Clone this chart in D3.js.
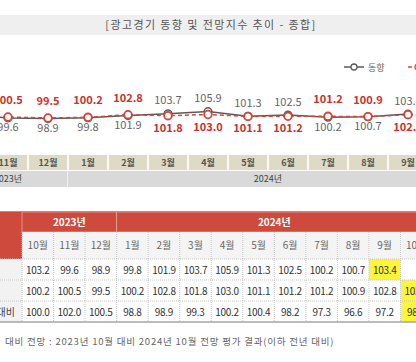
<!DOCTYPE html>
<html>
<head>
<meta charset="utf-8">
<script src="https://cdn.jsdelivr.net/npm/d3@7"></script>
<style>
  body { margin: 0; background: #fff; }
  svg { display: block; font-family: "Noto Sans CJK KR", "Noto Sans", sans-serif; }
</style>
</head>
<body>
<svg id="chart" width="416" height="362"></svg>
<script>
// chart categories (Oct 2023 .. Oct 2024)
const months = ["10월", "11월", "12월", "1월", "2월", "3월", "4월", "5월", "6월", "7월", "8월", "9월", "10월"];
const years = [
    { label: "2023년", from: 0, to: 2 },
    { label: "2024년", from: 3, to: 12 }
];
const trend = [103.2, 99.6, 98.9, 99.8, 101.9, 103.7, 105.9, 101.3, 102.5, 100.2, 100.7, 103.4, null];
const outlook = [100.2, 100.5, 99.5, 100.2, 102.8, 101.8, 103.0, 101.1, 101.2, 101.2, 100.9, 102.8, 103.1];
const yoy = [100.0, 102.0, 100.5, 98.8, 98.9, 99.3, 100.2, 100.4, 98.2, 97.3, 96.6, 97.2, 98.6];
const rowLabels = ["동향", "전망", "전년 동월 대비"];
const seriesNames = ["동향", "전망"];
// highlighted table cells [row, col]
const highlights = [[0, 11], [1, 12], [2, 12]];

const svg = d3.select("#chart");
const red = "#c9312b";
const grey = "#5a5a5a";
const keys = months.map((m, i) => i);

//title band
svg.append("rect").attr("x", 0).attr("y", 15).attr("width", 416).attr("height", 20).attr("fill", "#efefef");
svg.append("text")
    .attr("x", 211).attr("y", 29)
    .attr("text-anchor", "middle")
    .style("font-size", "11px")
    .style("letter-spacing", "1.4px")
    .style("fill", "#555")
    .text("[광고경기 동향 및 전망지수 추이 - 종합]");

//scales for the line chart
const x = d3.scaleBand().domain(keys).range([-52, 468]).paddingInner(0.04).paddingOuter(0.02);
const y = d3.scaleLinear().domain([95, 110]).range([122.5, 107.5]);
const cx = i => x(i) + x.bandwidth() / 2;

//month cells under the chart
svg.append("g").selectAll("rect")
    .data(keys).enter().append("rect")
    .attr("x", d => x(d)).attr("y", 155)
    .attr("width", x.bandwidth()).attr("height", 15)
    .attr("fill", "#dedac6");
svg.append("g").selectAll("text")
    .data(keys).enter().append("text")
    .attr("x", d => cx(d)).attr("y", 166)
    .attr("text-anchor", "middle")
    .style("font-size", "9px").style("font-weight", "bold")
    .style("fill", "#555")
    .text(d => months[d]);

//year row
const yearG = svg.append("g");
yearG.selectAll("rect")
    .data(years).enter().append("rect")
    .attr("x", d => x(d.from) - 1)
    .attr("y", 171)
    .attr("width", d => x(d.to) + x.bandwidth() - x(d.from) + 1)
    .attr("height", 16)
    .attr("fill", "#d9d9d9");
yearG.selectAll("text")
    .data(years).enter().append("text")
    .attr("x", d => (cx(d.from) + cx(d.to)) / 2)
    .attr("y", 182)
    .attr("text-anchor", "middle")
    .style("font-size", "9px")
    .style("fill", "#444")
    .text(d => d.label);

//lines
const trendLine = d3.line().defined(d => d[1] != null).x(d => cx(d[0])).y(d => y(d[1]));
svg.append("path")
    .datum(trend.map((v, i) => [i, v]))
    .attr("fill", "none").attr("stroke", grey).attr("stroke-width", 1.5)
    .attr("d", trendLine);
svg.append("path")
    .datum(outlook.map((v, i) => [i, v]))
    .attr("fill", "none").attr("stroke", "#d8433b").attr("stroke-width", 1.5)
    .attr("stroke-dasharray", "4,3")
    .attr("d", trendLine);

svg.append("g").selectAll("circle")
    .data(trend.map((v, i) => [i, v]).filter(d => d[1] != null))
    .enter().append("circle")
    .attr("cx", d => cx(d[0])).attr("cy", d => y(d[1])).attr("r", 3.8)
    .attr("fill", "#fff").attr("stroke", grey).attr("stroke-width", 1.5);
svg.append("g").selectAll("circle")
    .data(outlook.map((v, i) => [i, v]))
    .enter().append("circle")
    .attr("cx", d => cx(d[0])).attr("cy", d => y(d[1])).attr("r", 3.8)
    .attr("fill", "#fff").attr("stroke", "#d8433b").attr("stroke-width", 1.8);

//data labels: higher value goes above
keys.forEach(i => {
    const t = trend[i], o = outlook[i];
    if (t != null) {
        const up = t > o;
        svg.append("text")
            .attr("x", cx(i)).attr("y", y(t) + (up ? -9.5 : 13.5))
            .attr("text-anchor", "middle")
            .style("font-size", "11px").style("fill", "#666")
            .text(t.toFixed(1));
    }
    const up = t == null || o >= t;
    svg.append("text")
        .attr("x", cx(i)).attr("y", y(o) + (up ? -13 : 16))
        .attr("text-anchor", "middle")
        .style("font-size", "11px").style("font-weight", "bold").style("fill", red)
        .text(o.toFixed(1));
});

//legend
const legend = svg.append("g")
    .selectAll("g").data(seriesNames).enter().append("g")
    .attr("transform", (d, i) => `translate(${344 + i * 64},67)`);
legend.append("line")
    .attr("x1", 0).attr("x2", 20)
    .attr("stroke", (d, i) => i ? "#d8433b" : grey).attr("stroke-width", 1.5)
    .attr("stroke-dasharray", (d, i) => i ? "4,3" : null);
legend.append("circle")
    .attr("cx", 10).attr("r", 3)
    .attr("fill", "#fff").attr("stroke", (d, i) => i ? "#d8433b" : grey).attr("stroke-width", 1.3);
legend.append("text")
    .attr("x", 24).attr("y", 3.5)
    .style("font-size", "9px").style("fill", "#666")
    .text(d => d);

//table
const tx = d3.scaleBand().domain(keys).range([22, 432]);
const rows = [trend, outlook, yoy];
const ty = d3.scaleBand().domain([0, 1, 2]).range([259, 322]);
const table = svg.append("g");

//header: year row and month row
table.append("rect").attr("x", -60).attr("y", 212).attr("width", 82).attr("height", 47).attr("fill", "#cd4a3c");
table.selectAll("rect.year")
    .data(years).enter().append("rect")
    .attr("class", "year")
    .attr("x", d => tx(d.from)).attr("y", 212)
    .attr("width", d => tx(d.to) + tx.bandwidth() - tx(d.from)).attr("height", 20)
    .attr("fill", "#cd4a3c").attr("stroke", "#e9a49b").attr("stroke-width", 0.8);
table.selectAll("text.year")
    .data(years).enter().append("text")
    .attr("class", "year")
    .attr("x", d => (tx(d.from) + tx(d.to) + tx.bandwidth()) / 2).attr("y", 226)
    .attr("text-anchor", "middle")
    .style("font-size", "10px").style("font-weight", "bold").style("fill", "#fff")
    .text(d => d.label);

table.selectAll("rect.month")
    .data(keys).enter().append("rect")
    .attr("class", "month")
    .attr("x", d => tx(d)).attr("y", 232)
    .attr("width", tx.bandwidth()).attr("height", 27)
    .attr("fill", "#f4f4f4");
table.selectAll("text.month")
    .data(keys).enter().append("text")
    .attr("class", "month")
    .attr("x", d => tx(d) + tx.bandwidth() / 2).attr("y", 249)
    .attr("text-anchor", "middle")
    .style("font-size", "10px").style("fill", "#666")
    .text(d => months[d]);

//row label column
table.selectAll("rect.rowlab")
    .data(rowLabels).enter().append("rect")
    .attr("class", "rowlab")
    .attr("x", -60).attr("y", (d, i) => ty(i))
    .attr("width", 82).attr("height", ty.bandwidth())
    .attr("fill", "#f2f2f2");
table.selectAll("text.rowlab")
    .data(rowLabels).enter().append("text")
    .attr("class", "rowlab")
    .attr("x", -15).attr("y", (d, i) => ty(i) + ty.bandwidth() / 2 + 4)
    .attr("text-anchor", "middle")
    .style("font-size", "10px").style("fill", "#444")
    .text(d => d);

//highlighted cells
table.selectAll("rect.hl")
    .data(highlights).enter().append("rect")
    .attr("class", "hl")
    .attr("x", d => tx(d[1])).attr("y", d => ty(d[0]))
    .attr("width", tx.bandwidth()).attr("height", ty.bandwidth())
    .attr("fill", "#fbf63a");

//values
rows.forEach((row, r) => {
    table.append("g").selectAll("text")
        .data(row.map((v, i) => [i, v]).filter(d => d[1] != null))
        .enter().append("text")
        .attr("x", d => tx(d[0]) + tx.bandwidth() / 2)
        .attr("y", ty(r) + ty.bandwidth() / 2 + 4)
        .attr("text-anchor", "middle")
        .style("font-size", "10px").style("fill", "#333").style("letter-spacing", "-0.3px")
        .text(d => d[1].toFixed(1));
});

//grid lines
const grid = table.append("g").attr("stroke", "#c8c8c8").attr("stroke-dasharray", "1,1");
grid.selectAll("line.v")
    .data(keys.slice(1)).enter().append("line")
    .attr("x1", d => tx(d)).attr("x2", d => tx(d))
    .attr("y1", 232).attr("y2", 322);
grid.append("line").attr("x1", 22).attr("x2", 22).attr("y1", 232).attr("y2", 322).attr("stroke-dasharray", null);
grid.selectAll("line.h")
    .data([259, ty(1), ty(2)]).enter().append("line")
    .attr("x1", -60).attr("x2", 432)
    .attr("y1", d => d).attr("y2", d => d);
table.append("line").attr("x1", -60).attr("x2", 432).attr("y1", 211.5).attr("y2", 211.5)
    .attr("stroke", "#9a9a9a").attr("stroke-width", 1);
table.append("line").attr("x1", -60).attr("x2", 432).attr("y1", 322).attr("y2", 322)
    .attr("stroke", "#a5a5a5").attr("stroke-width", 1.5);

//footnote
svg.append("text")
    .attr("x", 5).attr("y", 345)
    .style("font-size", "9.5px").style("fill", "#666")
    .style("letter-spacing", "0.8px")
    .text("대비 전망 : 2023년 10월 대비 2024년 10월 전망 평가 결과(이하 전년 대비)");
</script>
</body>
</html>
